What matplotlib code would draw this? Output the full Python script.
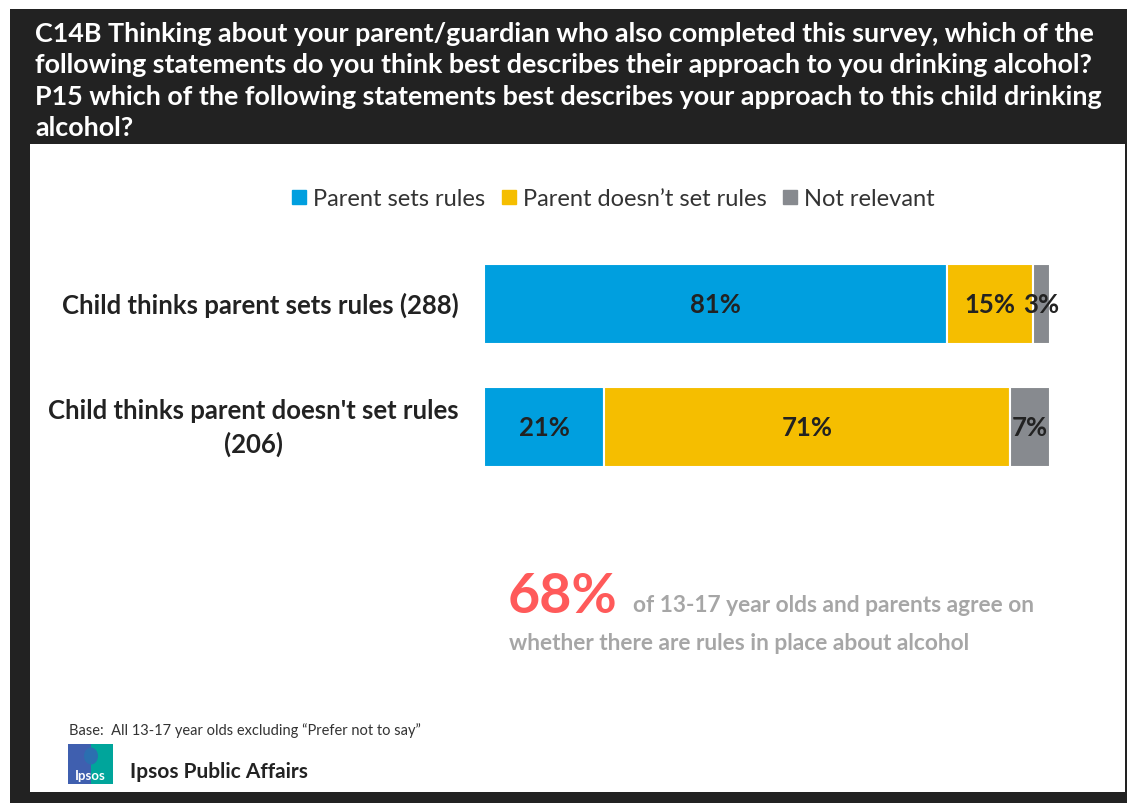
import matplotlib
matplotlib.use('Agg')
import matplotlib.pyplot as plt
from matplotlib.patches import Rectangle, Ellipse
from matplotlib.lines import Line2D

plt.rcParams['font.family'] = ['Lato', 'DejaVu Sans']

# chart data
categories = ['Child thinks parent sets rules (288)',
              "Child thinks parent doesn't set rules\n(206)"]
series_names = ['Parent sets rules', 'Parent doesn\u2019t set rules', 'Not relevant']
sets_rules = [81, 21]
no_rules = [15, 71]
not_relevant = [3, 7]
colors = ['#009FDF', '#F5BE00', '#878A8F']

title = ('C14B Thinking about your parent/guardian who also completed this survey, which of the\n'
         'following statements do you think best describes their approach to you drinking alcohol?\n'
         'P15 which of the following statements best describes your approach to this child drinking\n'
         'alcohol?')

W, H = 1130, 804
fig = plt.figure(figsize=(W / 100, H / 100), dpi=100)
fig.patch.set_facecolor('white')

def fx(px):
    return px / W

def fy(py):
    return 1 - py / H

# dark frame and white panel
fig.patches.append(Rectangle((fx(10), fy(804)), fx(1117), 794 / H, transform=fig.transFigure,
                             facecolor='#222222', edgecolor='none', zorder=-2))
fig.patches.append(Rectangle((fx(30), fy(793)), fx(1095), 648 / H, transform=fig.transFigure,
                             facecolor='white', edgecolor='none', zorder=-1))

fig.text(fx(35), fy(22), title, color='white', fontsize=19.4, fontweight='bold',
         va='top', ha='left', linespacing=1.37)

# bars
ax = fig.add_axes([fx(484), fy(489.5), fx(566), 246 / H])
ax.set_zorder(1)
ypos = [0, 1]
series = [sets_rules, no_rules, not_relevant]
left = [0, 0]
for vals, col in zip(series, colors):
    bars = ax.barh(ypos, vals, left=left, height=0.65, color=col, edgecolor='white', linewidth=1.5)
    for b, v in zip(bars, vals):
        ax.text(b.get_x() + b.get_width() / 2, b.get_y() + b.get_height() / 2, f'{v}%',
                ha='center', va='center', fontsize=18.5, fontweight='bold', color='#222222')
    left = [l + v for l, v in zip(left, vals)]
ax.set_xlim(0, 99)
ax.set_ylim(1.5, -0.5)
ax.axis('off')

for y, cat in zip(ypos, categories):
    ax.text(-0.045, y, cat, transform=ax.get_yaxis_transform(), ha='right', va='center',
            multialignment='center', fontsize=18.5, fontweight='bold', color='#222222',
            linespacing=1.45)

# legend
handles = [Line2D([], [], marker='s', linestyle='none', markersize=10, color=c) for c in colors]
fig.legend(handles, series_names, loc='center', bbox_to_anchor=(fx(612), fy(200)), ncol=3,
           frameon=False, fontsize=17, handletextpad=0.2, columnspacing=0.6,
           labelcolor='#333333', handlelength=0.8)

# callout
fig.text(fx(508), fy(613), '68%', color='#FF5A5A', fontsize=40, fontweight='bold',
         ha='left', va='baseline')
fig.text(fx(633), fy(612), 'of 13-17 year olds and parents agree on', color='#A6A6A6',
         fontsize=16.4, fontweight='bold', ha='left', va='baseline')
fig.text(fx(509), fy(650), 'whether there are rules in place about alcohol', color='#A6A6A6',
         fontsize=16.4, fontweight='bold', ha='left', va='baseline')

# footer
fig.text(fx(69), fy(735), 'Base:  All 13-17 year olds excluding \u201cPrefer not to say\u201d',
         color='#333333', fontsize=10.5, ha='left', va='baseline')
fig.patches.append(Rectangle((fx(68), fy(785)), fx(23), 40 / H, transform=fig.transFigure,
                             facecolor='#3F5FAF', edgecolor='none'))
fig.patches.append(Rectangle((fx(91), fy(785)), fx(22), 40 / H, transform=fig.transFigure,
                             facecolor='#00A59B', edgecolor='none'))
fig.patches.append(Ellipse((fx(91), fy(757)), fx(14), 17 / H, transform=fig.transFigure,
                           facecolor='#2B6FB0', edgecolor='none'))
fig.text(fx(90), fy(780), 'Ipsos', color='white', fontsize=9.5, fontweight='bold',
         ha='center', va='baseline')
fig.text(fx(130), fy(778), 'Ipsos Public Affairs', color='#222222', fontsize=15,
         fontweight='bold', ha='left', va='baseline')

fig.savefig('out.png', dpi=100)
